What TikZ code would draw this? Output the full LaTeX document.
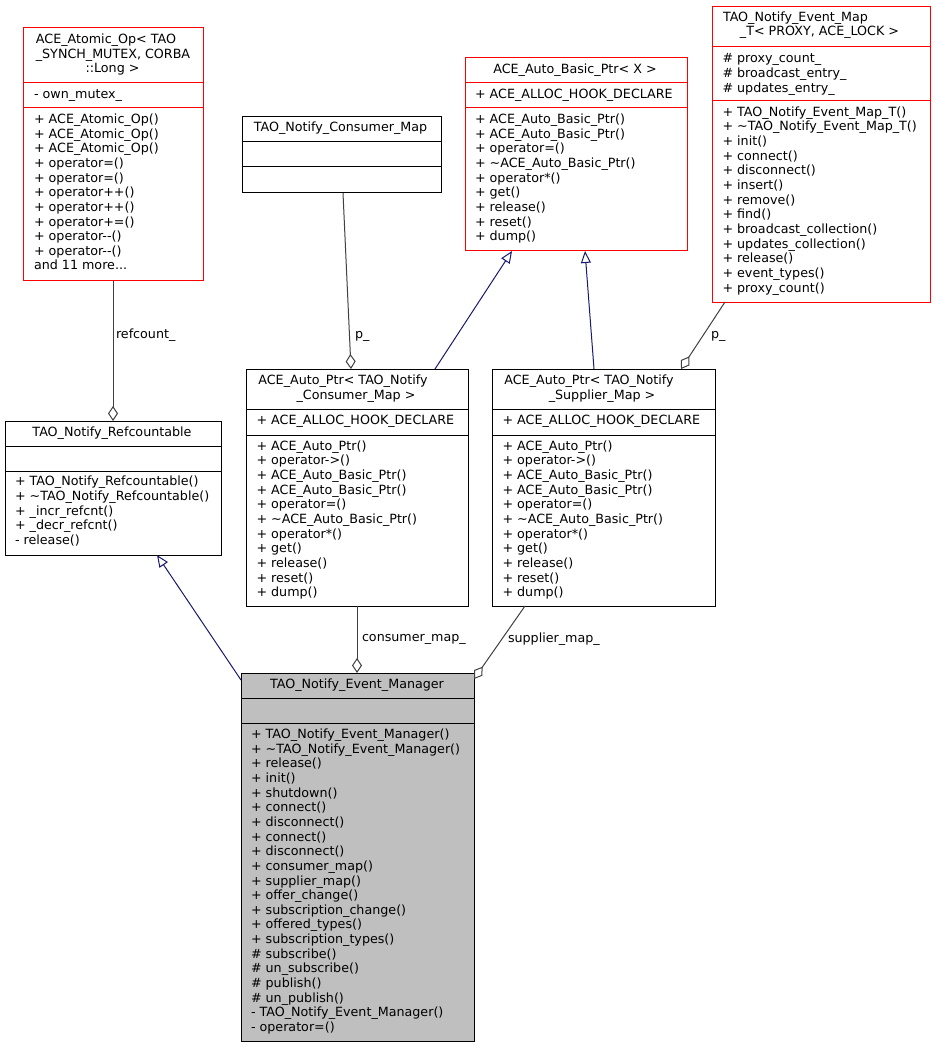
\documentclass[tikz,border=0pt]{standalone}
\usepackage{fontspec}
\setmainfont{DejaVu Sans}
\usetikzlibrary{arrows.meta}
\definecolor{edgeblue}{HTML}{191970}
\definecolor{agggray}{HTML}{404040}
\definecolor{mgrfill}{HTML}{BFBFBF}
\tikzset{
  umlbox/.style={draw, rectangle, inner sep=0pt, outer sep=0pt, anchor=north west, line width=1pt, fill=white},
  redbox/.style={umlbox, draw=red},
  blackbox/.style={umlbox, draw=black},
  graybox/.style={umlbox, draw=black, fill=mgrfill},
  sepred/.style={draw=red, line width=1pt},
  sepblack/.style={draw=black, line width=1pt},
  txt/.style={font=\fontsize{12.7}{14.65}\selectfont, inner sep=0pt, outer sep=0pt},
  members/.style={txt, anchor=north west, align=left},
  titletxt/.style={txt, anchor=base},
  lbl/.style={txt, anchor=base west},
  inherit/.style={draw=edgeblue, line width=1pt, -{Triangle[open, length=12pt, width=10pt]}},
  aggr/.style={draw=agggray, line width=1pt, -{Diamond[open, length=15pt, width=10pt]}},
}
% style, name, x1, y1, x2, y2
\newcommand\umlnode[6]{\node[#1, minimum width={#5pt-#3pt}, minimum height={#6pt-#4pt}] (#2) at (#3,#4) {};}
% name, x, first baseline, text
\newcommand\memb[4]{\node[members] (#1) at (#2,#3-10.255) {\strut #4};}
\begin{document}
\begin{tikzpicture}[x=1pt, y=-1pt]
\fill[white] (0,0) rectangle (936,1048);
\useasboundingbox (0,0) rectangle (936,1048);

% ---------- boxes ----------
\umlnode{redbox}{atomic}{23}{28}{203}{281}
\draw[sepred] (23,83) -- (203,83);
\draw[sepred] (23,108) -- (203,108);
\node[titletxt] (atomicT1) at (106,44) {ACE\_Atomic\_Op< TAO};
\node[titletxt] (atomicT2) at (113,58.5) {\_SYNCH\_MUTEX, CORBA};
\node[titletxt] (atomicT3) at (112.5,73) {::Long >};
\memb{atomicA}{34}{98.5}{- own\_mutex\_}
\memb{atomicM}{34}{123.5}{+ ACE\_Atomic\_Op()\\+ ACE\_Atomic\_Op()\\+ ACE\_Atomic\_Op()\\+ operator=()\\+ operator=()\\+ operator++()\\+ operator++()\\+ operator+=()\\+ operator-{}-()\\+ operator-{}-()\\and 11 more...}

\umlnode{blackbox}{consmap}{242}{117}{441}{193}
\draw[sepblack] (242,142) -- (441,142);
\draw[sepblack] (242,167) -- (441,167);
\node[titletxt] (consmapT) at (340.5,131.8) {TAO\_Notify\_Consumer\_Map};

\umlnode{redbox}{basic}{465}{58}{687}{251}
\draw[sepred] (465,83) -- (687,83);
\draw[sepred] (465,108) -- (687,108);
\node[titletxt] (basicT) at (575,73.5) {ACE\_Auto\_Basic\_Ptr< X >};
\memb{basicA}{475}{98.5}{+ ACE\_ALLOC\_HOOK\_DECLARE}
\memb{basicM}{475}{123.5}{+ ACE\_Auto\_Basic\_Ptr()\\+ ACE\_Auto\_Basic\_Ptr()\\+ operator=()\\+ \textasciitilde ACE\_Auto\_Basic\_Ptr()\\+ operator*()\\+ get()\\+ release()\\+ reset()\\+ dump()}

\umlnode{redbox}{evmap}{712}{7}{930}{302}
\draw[sepred] (712,47) -- (930,47);
\draw[sepred] (712,101) -- (930,101);
\node[titletxt] (evmapT1) at (795.5,21.8) {TAO\_Notify\_Event\_Map};
\node[titletxt] (evmapT2) at (819.5,35.8) {\_T< PROXY, ACE\_LOCK >};
\memb{evmapA}{722.5}{62.8}{\# proxy\_count\_\\\# broadcast\_entry\_\\\# updates\_entry\_}
\memb{evmapM}{722.5}{116.2}{+ TAO\_Notify\_Event\_Map\_T()\\+ \textasciitilde TAO\_Notify\_Event\_Map\_T()\\+ init()\\+ connect()\\+ disconnect()\\+ insert()\\+ remove()\\+ find()\\+ broadcast\_collection()\\+ updates\_collection()\\+ release()\\+ event\_types()\\+ proxy\_count()}

\umlnode{blackbox}{refc}{5}{421}{221}{555}
\draw[sepblack] (5,446) -- (221,446);
\draw[sepblack] (5,471) -- (221,471);
\node[titletxt] (refcT) at (112,436.2) {TAO\_Notify\_Refcountable};
\memb{refcM}{15}{485.8}{+ TAO\_Notify\_Refcountable()\\+ \textasciitilde TAO\_Notify\_Refcountable()\\+ \_incr\_refcnt()\\+ \_decr\_refcnt()\\- release()}

\umlnode{blackbox}{apc}{246}{369}{468}{606}
\draw[sepblack] (246,409) -- (468,409);
\draw[sepblack] (246,435) -- (468,435);
\node[titletxt] (apcT1) at (343,384.2) {ACE\_Auto\_Ptr< TAO\_Notify};
\node[titletxt] (apcT2) at (356,399.5) {\_Consumer\_Map >};
\memb{apcA}{256.5}{424.2}{+ ACE\_ALLOC\_HOOK\_DECLARE}
\memb{apcM}{256.5}{450.2}{+ ACE\_Auto\_Ptr()\\+ operator->()\\+ ACE\_Auto\_Basic\_Ptr()\\+ ACE\_Auto\_Basic\_Ptr()\\+ operator=()\\+ \textasciitilde ACE\_Auto\_Basic\_Ptr()\\+ operator*()\\+ get()\\+ release()\\+ reset()\\+ dump()}

\umlnode{blackbox}{aps}{492}{369}{715}{606}
\draw[sepblack] (492,409) -- (715,409);
\draw[sepblack] (492,435) -- (715,435);
\node[titletxt] (apsT1) at (589,384.2) {ACE\_Auto\_Ptr< TAO\_Notify};
\node[titletxt] (apsT2) at (602,399.5) {\_Supplier\_Map >};
\memb{apsA}{502.5}{424.2}{+ ACE\_ALLOC\_HOOK\_DECLARE}
\memb{apsM}{502.5}{450.2}{+ ACE\_Auto\_Ptr()\\+ operator->()\\+ ACE\_Auto\_Basic\_Ptr()\\+ ACE\_Auto\_Basic\_Ptr()\\+ operator=()\\+ \textasciitilde ACE\_Auto\_Basic\_Ptr()\\+ operator*()\\+ get()\\+ release()\\+ reset()\\+ dump()}

\umlnode{graybox}{mgr}{241}{673}{474}{1041}
\draw[sepblack] (241,698) -- (474,698);
\draw[sepblack] (241,723) -- (474,723);
\node[titletxt] (mgrT) at (357,688.5) {TAO\_Notify\_Event\_Manager};
\memb{mgrM}{251}{738.5}{+ TAO\_Notify\_Event\_Manager()\\+ \textasciitilde TAO\_Notify\_Event\_Manager()\\+ release()\\+ init()\\+ shutdown()\\+ connect()\\+ disconnect()\\+ connect()\\+ disconnect()\\+ consumer\_map()\\+ supplier\_map()\\+ offer\_change()\\+ subscription\_change()\\+ offered\_types()\\+ subscription\_types()\\\# subscribe()\\\# un\_subscribe()\\\# publish()\\\# un\_publish()\\- TAO\_Notify\_Event\_Manager()\\- operator=()}

% ---------- connectors ----------
\draw[aggr] ([xshift=90pt]atomic.south west) -- ([xshift=108pt]refc.north west);
\draw[aggr] ([xshift=101pt]consmap.south west) -- ([xshift=105pt]apc.north west);
\draw[inherit] ([xshift=189pt]apc.north west) -- ([xshift=47pt]basic.south west);
\draw[inherit] ([xshift=102pt]aps.north west) -- ([xshift=120pt]basic.south west);
\draw[aggr] ([xshift=13pt]evmap.south west) -- ([xshift=189pt]aps.north west);
\draw[inherit] ([yshift=-7pt]mgr.north west) -- ([xshift=152pt]refc.south west);
\draw[aggr] ([xshift=111pt]apc.south west) -- ([xshift=116pt]mgr.north west);
\draw[aggr] ([xshift=33pt]aps.south west) -- ([yshift=-6pt]mgr.north east);

% ---------- labels ----------
\node[lbl] (lblrefcount) at (116,338) {refcount\_};
\node[lbl] (lblpc) at (355,338) {p\_};
\node[lbl] (lblps) at (711,338) {p\_};
\node[lbl] (lblcm) at (362,641) {consumer\_map\_};
\node[lbl] (lblsm) at (508,642) {supplier\_map\_};
\end{tikzpicture}
\end{document}
